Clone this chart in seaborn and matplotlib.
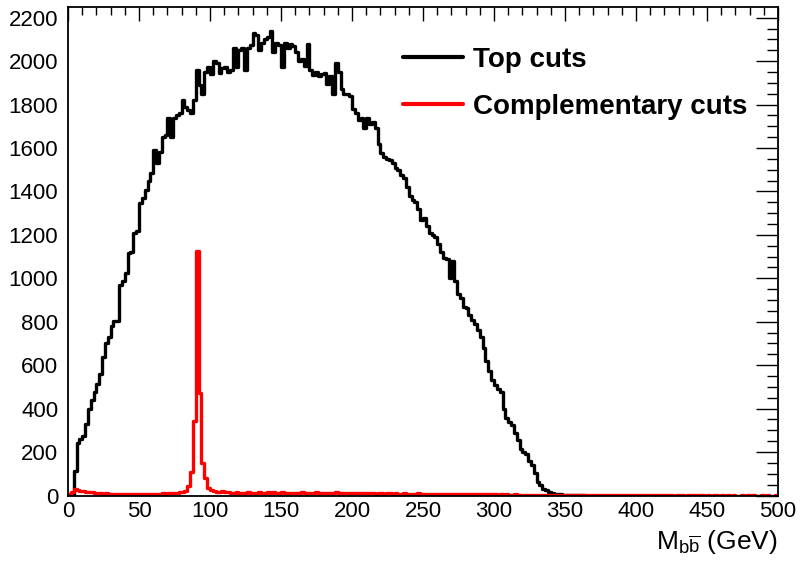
import numpy as np
import pandas as pd
import matplotlib
matplotlib.use("Agg")
import matplotlib.pyplot as plt
from matplotlib.ticker import MultipleLocator
import seaborn as sns

# ---------------- data (2 GeV bins) ----------------
bin_width = 2.0
top_cuts = [
    0, 0, 115, 240, 260, 275, 330, 400, 440, 475,
    515, 560, 640, 700, 730, 780, 805, 805, 970, 990,
    1025, 1115, 1120, 1210, 1220, 1345, 1370, 1405, 1450, 1485,
    1590, 1530, 1580, 1650, 1660, 1740, 1650, 1740, 1750, 1760,
    1820, 1790, 1775, 1760, 1820, 1960, 1890, 1850, 1950, 1975,
    1940, 2000, 1990, 1945, 1970, 1975, 1950, 1960, 2060, 1975,
    2050, 2060, 1960, 2060, 2075, 2130, 2120, 2050, 2085, 2100,
    2110, 2140, 2040, 2085, 2075, 1975, 2085, 2060, 2080, 2070,
    2040, 2000, 2010, 1980, 2080, 1960, 1935, 1950, 1930, 1940,
    1945, 1895, 1930, 1850, 1990, 1950, 1870, 1850, 1850, 1840,
    1780, 1760, 1730, 1740, 1690, 1740, 1710, 1720, 1690, 1620,
    1575, 1560, 1550, 1545, 1530, 1510, 1500, 1475, 1460, 1420,
    1380, 1360, 1350, 1320, 1270, 1280, 1240, 1210, 1200, 1190,
    1160, 1120, 1095, 1090, 1000, 1080, 990, 930, 910, 870,
    865, 830, 810, 790, 760, 730, 680, 620, 575, 530,
    510, 490, 475, 400, 355, 340, 325, 290, 255, 215,
    200, 190, 160, 140, 105, 60, 48, 30, 25, 15,
    10, 8, 6, 5, 4, 3, 3, 2, 2, 1,
    1, 1,
]
complementary_cuts = [
    5, 15, 30, 26, 22, 20, 17, 15, 14, 12,
    11, 10, 9, 10, 8, 8, 9, 7, 8, 8,
    7, 8, 9, 8, 8, 7, 8, 9, 8, 8,
    9, 8, 9, 10, 9, 10, 11, 10, 12, 14,
    16, 20, 46, 110, 345, 1125, 470, 150, 80, 35,
    25, 22, 18, 15, 20, 16, 14, 13, 12, 14,
    12, 13, 12, 14, 13, 12, 13, 14, 12, 13,
    14, 13, 15, 13, 12, 14, 13, 12, 13, 12,
    13, 12, 14, 12, 11, 13, 12, 14, 12, 11,
    12, 11, 13, 12, 14, 11, 12, 10, 11, 12,
    11, 10, 12, 11, 10, 11, 12, 10, 9, 11,
    10, 9, 10, 11, 9, 10, 9, 8, 10, 9,
    9, 8, 9, 10, 8, 9, 8, 7, 8, 9,
    8, 7, 8, 7, 6, 7, 8, 6, 7, 6,
    6, 7, 6, 5, 6, 5, 6, 5, 5, 6,
    5, 4, 5, 4, 5, 4, 4, 5, 4, 3,
    4, 3, 4, 3, 3, 4, 3, 3, 2, 3,
    3, 2, 3, 2, 2, 3, 2, 2, 2, 2,
    2, 2, 1, 2, 2, 1, 2, 1, 1, 2,
    1, 1, 2, 1, 1, 1, 1, 1, 2, 1,
    1, 1, 1, 1, 1, 1, 1, 1, 1, 1,
    1, 1, 1, 0, 1, 1, 1, 0, 1, 1,
    1, 0, 1, 1, 0, 1, 0, 1, 1, 0,
    1, 0, 1, 0, 1, 0, 0, 1, 0, 1,
    0, 1, 0, 0, 1, 0, 1, 0, 0, 1,
]
series_labels = ["Top cuts", "Complementary cuts"]
series_colors = ["#000000", "#ff0000"]
x_ticks = [0, 50, 100, 150, 200, 250, 300, 350, 400, 450, 500]
y_ticks = [0, 200, 400, 600, 800, 1000, 1200, 1400, 1600, 1800, 2000, 2200]
x_label = r"$\mathrm{M}_{\mathrm{b\overline{b}}}$ (GeV)"

# ---------------- style ----------------
sns.set_theme(style="white")
plt.rcParams["font.family"] = ["Liberation Sans", "DejaVu Sans"]
plt.rcParams["mathtext.fontset"] = "custom"
plt.rcParams["mathtext.rm"] = "Liberation Sans"
plt.rcParams["mathtext.it"] = "Liberation Sans:italic"
plt.rcParams["text.color"] = "black"
plt.rcParams["axes.labelcolor"] = "black"
plt.rcParams["xtick.color"] = "black"
plt.rcParams["ytick.color"] = "black"

fig = plt.figure(figsize=(8.03, 5.65), dpi=100)
ax = fig.add_axes([68 / 803, (565 - 495.5) / 565, 710 / 803, 488.2 / 565])

for counts, lab, col in zip([top_cuts, complementary_cuts], series_labels, series_colors):
    n = len(counts)
    centers = np.arange(n) * bin_width + bin_width / 2
    df = pd.DataFrame({"mass": centers, "count": counts})
    sns.histplot(data=df, x="mass", weights="count",
                 binwidth=bin_width, binrange=(0, n * bin_width),
                 element="step", fill=False, color=col, linewidth=2.4,
                 ax=ax, label=lab)

ax.set_xlim(0, 500)
ax.set_ylim(0, 2248)
ax.set_ylabel("")
ax.set_xticks(x_ticks)
ax.set_yticks(y_ticks)
ax.xaxis.set_minor_locator(MultipleLocator(10))
ax.yaxis.set_minor_locator(MultipleLocator(50))
ax.tick_params(axis="both", which="both", direction="in", top=True, right=True,
               color="black", labelcolor="black", width=1.0)
ax.tick_params(axis="x", which="major", length=10, labelsize=16, pad=4)
ax.tick_params(axis="x", which="minor", length=5.5)
ax.tick_params(axis="y", which="major", length=16, labelsize=16, pad=7)
ax.tick_params(axis="y", which="minor", length=8)
for s in ax.spines.values():
    s.set_color("black")
    s.set_linewidth(1.3)

ax.set_xlabel(x_label, loc="right", fontsize=19, labelpad=4, color="black")

handles = ax.lines[:2]
leg = ax.legend(handles, series_labels, loc="upper left",
                bbox_to_anchor=((403 - 68) / 710, (495.5 - 47) / 488.2),
                frameon=False, borderaxespad=0, borderpad=0,
                handlelength=2.15, handletextpad=0.38, labelspacing=0.74,
                prop={"family": "Liberation Sans", "weight": "bold", "size": 20})
for t in leg.get_texts():
    t.set_color("black")
for h in leg.legend_handles:
    h.set_linewidth(3)

fig.savefig("out.png", dpi=100)
